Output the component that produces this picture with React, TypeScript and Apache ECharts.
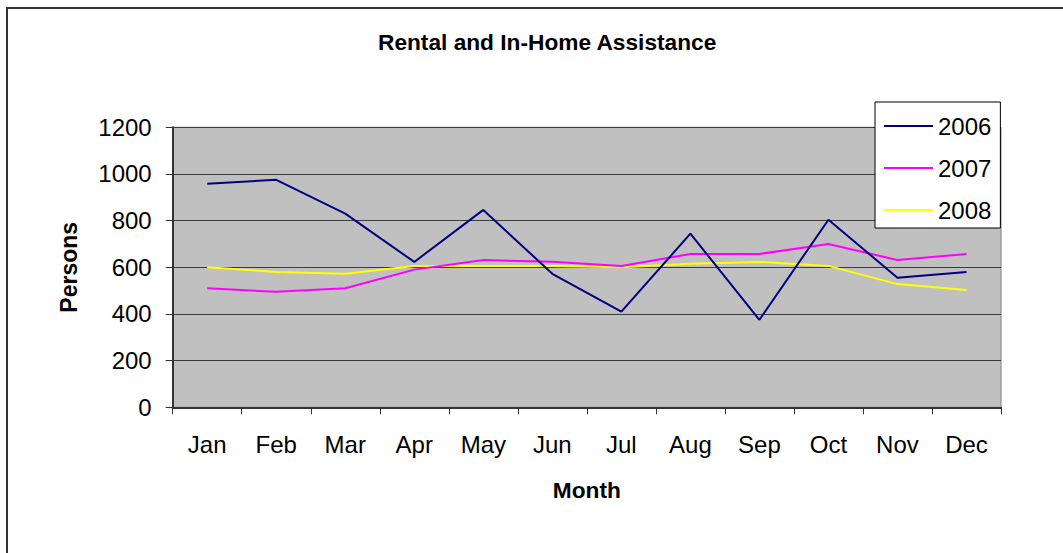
import React, { useEffect, useRef } from "react";
import * as echarts from "echarts";

const months = ["Jan", "Feb", "Mar", "Apr", "May", "Jun", "Jul", "Aug", "Sep", "Oct", "Nov", "Dec"];
const seriesNames = ["2006", "2007", "2008"];
const values2006 = [958, 975, 830, 623, 846, 572, 410, 744, 375, 804, 555, 580];
const values2007 = [510, 495, 510, 590, 631, 624, 606, 657, 657, 700, 631, 657];
const values2008 = [600, 580, 572, 606, 606, 606, 600, 615, 623, 606, 528, 503];
const yTicks = [0, 200, 400, 600, 800, 1000, 1200];

const FONT = "'Liberation Sans', Arial, sans-serif";

export default function App() {
  const ref = useRef<HTMLDivElement>(null);
  useEffect(() => {
    if (!ref.current) return;
    const chart = echarts.init(ref.current, undefined, { renderer: "svg" });
    const colors = ["#000080", "#ff00ff", "#ffff00"];
    const data = [values2006, values2007, values2008];
    chart.setOption({
      animation: false,
      textStyle: { fontFamily: FONT },
      title: {
        text: "Rental and In-Home Assistance",
        left: 378,
        top: 30,
        padding: 0,
        textStyle: { fontFamily: FONT, fontSize: 22.7, fontWeight: "bold", color: "#000" },
      },
      graphic: [
        {
          type: "rect",
          silent: true,
          shape: { x: 7, y: 8, width: 2000, height: 2000 },
          style: { fill: "none", stroke: "#333", lineWidth: 2 },
        },
      ],
      legend: {
        orient: "vertical",
        left: 875,
        top: 102,
        padding: [12, 9, 6, 9],
        icon: "rect",
        itemWidth: 49,
        itemHeight: 2,
        itemGap: 18,
        backgroundColor: "#fff",
        borderColor: "#000",
        borderWidth: 1,
        borderRadius: 0,
        data: seriesNames,
        textStyle: { fontFamily: FONT, fontSize: 24, lineHeight: 24, color: "#000" },
      },
      grid: {
        left: 172.7,
        top: 127.3,
        right: 62,
        bottom: 145.7,
        show: true,
        backgroundColor: "#c0c0c0",
        borderColor: "#808080",
        borderWidth: 1,
      },
      xAxis: {
        type: "category",
        data: months,
        boundaryGap: true,
        name: "Month",
        nameLocation: "middle",
        nameGap: 71,
        nameTextStyle: { fontFamily: FONT, fontSize: 22.7, fontWeight: "bold", color: "#000" },
        axisLine: { show: true, lineStyle: { color: "#333", width: 2 } },
        axisTick: { show: true, inside: false, length: 7, lineStyle: { color: "#333", width: 1 } },
        axisLabel: { margin: 25, fontFamily: FONT, fontSize: 24, color: "#000" },
        splitLine: { show: false },
      },
      yAxis: {
        type: "value",
        min: yTicks[0],
        max: yTicks[yTicks.length - 1],
        interval: 200,
        name: "Persons",
        nameLocation: "middle",
        nameGap: 92,
        nameTextStyle: { fontFamily: FONT, fontSize: 23, fontWeight: "bold", color: "#000" },
        axisLine: { show: true, lineStyle: { color: "#333", width: 2 } },
        axisTick: { show: true, inside: false, length: 7, lineStyle: { color: "#333", width: 1 } },
        axisLabel: {
          margin: 21,
          fontFamily: FONT,
          fontSize: 24,
          color: "#000",
          formatter: (v: number) => String(v),
        },
        splitLine: { show: true, lineStyle: { color: "#3c3c3c", width: 1 } },
      },
      series: seriesNames.map((name, i) => ({
        name,
        type: "line",
        data: data[i],
        symbol: "none",
        showSymbol: false,
        color: colors[i],
        itemStyle: { color: colors[i] },
        lineStyle: { color: colors[i], width: 2 },
        z: 5 - i,
      })),
    });
    return () => chart.dispose();
  }, []);
  return (
    <div
      ref={ref}
      style={{ position: "fixed", left: 0, top: 0, width: 1063, height: 553, background: "#fff" }}
    />
  );
}
